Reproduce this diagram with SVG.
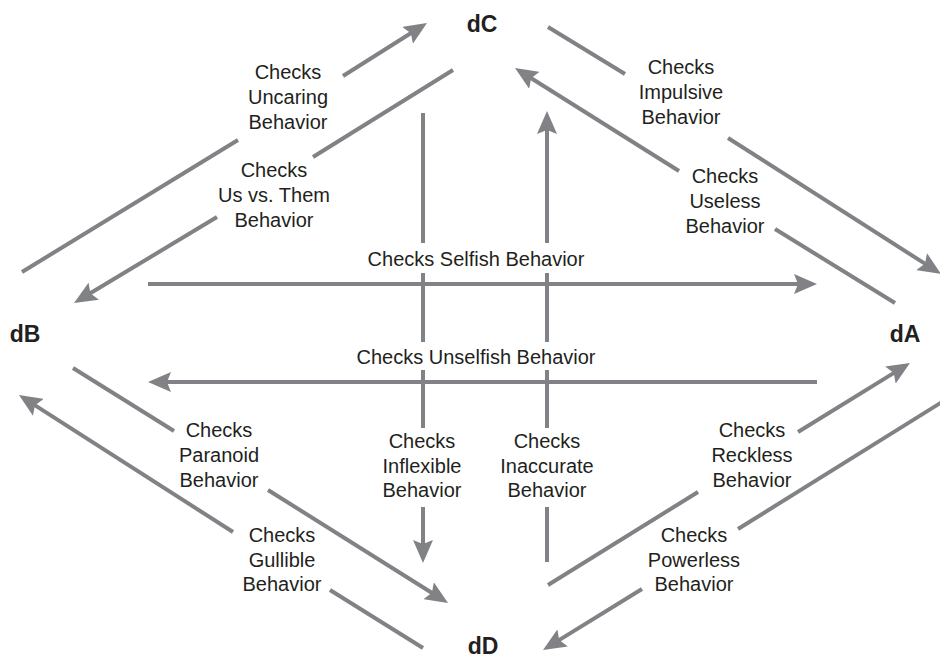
<svg xmlns="http://www.w3.org/2000/svg" width="940" height="660" viewBox="0 0 940 660">
<style>
.node{font-family:"Liberation Sans",Arial,sans-serif;font-weight:bold;font-size:23px;fill:#231f20;text-anchor:middle}
.lbl{font-family:"Liberation Sans",Arial,sans-serif;font-size:20px;fill:#231f20;text-anchor:middle}
.ln{stroke:#808285;stroke-width:4;fill:none}
</style>
<defs>
<marker id="ah" viewBox="0 -10 23 20" refX="8" refY="0" markerWidth="23" markerHeight="20" markerUnits="userSpaceOnUse" orient="auto">
<path d="M0,-10 L23,0 L0,10 L4,0 Z" fill="#808285"/>
</marker>
</defs>
<rect width="940" height="660" fill="#ffffff"/>
<g id="connectors">
<line class="ln" x1="148" y1="284" x2="802" y2="284" marker-end="url(#ah)"/>
<line class="ln" x1="817" y1="382" x2="163" y2="382" marker-end="url(#ah)"/>
<line class="ln" x1="423" y1="113" x2="423" y2="243"/>
<line class="ln" x1="423" y1="273" x2="423" y2="342"/>
<line class="ln" x1="423" y1="370" x2="423" y2="428"/>
<line class="ln" x1="423" y1="507" x2="423" y2="548" marker-end="url(#ah)"/>
<line class="ln" x1="547" y1="562" x2="547" y2="507"/>
<line class="ln" x1="547" y1="428" x2="547" y2="370"/>
<line class="ln" x1="547" y1="342" x2="547" y2="273"/>
<line class="ln" x1="547" y1="243" x2="547" y2="126" marker-end="url(#ah)"/>
<line class="ln" x1="22" y1="272" x2="238" y2="140"/>
<line class="ln" x1="343" y1="76" x2="414.3" y2="31" marker-end="url(#ah)"/>
<line class="ln" x1="453" y1="70" x2="313" y2="157"/>
<line class="ln" x1="217" y1="217" x2="86.9" y2="295.3" marker-end="url(#ah)"/>
<line class="ln" x1="548" y1="27" x2="625" y2="74"/>
<line class="ln" x1="728" y1="138" x2="928.4" y2="265.9" marker-end="url(#ah)"/>
<line class="ln" x1="895" y1="303" x2="775" y2="229"/>
<line class="ln" x1="679" y1="171" x2="527.7" y2="76" marker-end="url(#ah)"/>
<line class="ln" x1="73" y1="368" x2="174" y2="431"/>
<line class="ln" x1="268" y1="490" x2="435.3" y2="595" marker-end="url(#ah)"/>
<line class="ln" x1="423" y1="648" x2="330" y2="590"/>
<line class="ln" x1="233" y1="532" x2="31.6" y2="403.1" marker-end="url(#ah)"/>
<line class="ln" x1="548" y1="585" x2="698" y2="492"/>
<line class="ln" x1="798" y1="432" x2="897.2" y2="370.9" marker-end="url(#ah)"/>
<line class="ln" x1="942" y1="402" x2="738" y2="529"/>
<line class="ln" x1="642" y1="589" x2="555.8" y2="642.1" marker-end="url(#ah)"/>
</g>
<g id="labels">
<text class="lbl" x="476" y="266">Checks Selfish Behavior</text>
<text class="lbl" x="476" y="364">Checks Unselfish Behavior</text>
<text class="lbl" x="288" y="79">Checks<tspan x="288" y="104">Uncaring</tspan><tspan x="288" y="129">Behavior</tspan></text>
<text class="lbl" x="274" y="177">Checks<tspan x="274" y="202">Us vs. Them</tspan><tspan x="274" y="227">Behavior</tspan></text>
<text class="lbl" x="681" y="74">Checks<tspan x="681" y="99">Impulsive</tspan><tspan x="681" y="124">Behavior</tspan></text>
<text class="lbl" x="725" y="183">Checks<tspan x="725" y="208">Useless</tspan><tspan x="725" y="233">Behavior</tspan></text>
<text class="lbl" x="219" y="437">Checks<tspan x="219" y="462">Paranoid</tspan><tspan x="219" y="487">Behavior</tspan></text>
<text class="lbl" x="282" y="542">Checks<tspan x="282" y="567">Gullible</tspan><tspan x="282" y="591">Behavior</tspan></text>
<text class="lbl" x="422" y="448">Checks<tspan x="422" y="473">Inflexible</tspan><tspan x="422" y="497">Behavior</tspan></text>
<text class="lbl" x="547" y="448">Checks<tspan x="547" y="473">Inaccurate</tspan><tspan x="547" y="497">Behavior</tspan></text>
<text class="lbl" x="752" y="437">Checks<tspan x="752" y="462">Reckless</tspan><tspan x="752" y="487">Behavior</tspan></text>
<text class="lbl" x="694" y="542">Checks<tspan x="694" y="567">Powerless</tspan><tspan x="694" y="591">Behavior</tspan></text>
</g>
<g id="node-dC"><text class="node" x="482" y="32">dC</text></g>
<g id="node-dB"><text class="node" x="25" y="342">dB</text></g>
<g id="node-dA"><text class="node" x="905" y="342">dA</text></g>
<g id="node-dD"><text class="node" x="483" y="654">dD</text></g>
</svg>
